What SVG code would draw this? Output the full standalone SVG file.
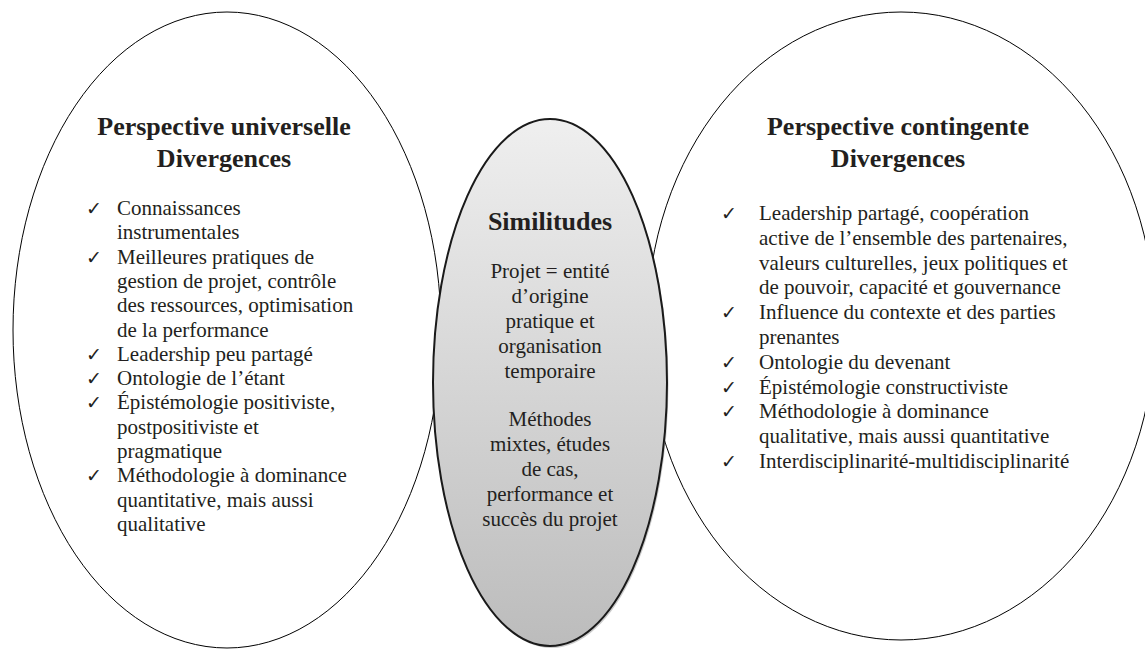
<svg xmlns="http://www.w3.org/2000/svg" width="1145" height="649" viewBox="0 0 1145 649">
<style>
.bg{fill:#ffffff}
.outer{fill:#ffffff;stroke:#000000;stroke-width:1}
.inner{fill:url(#grad);stroke:#1a1a1a;stroke-width:2}
.shadow{fill:#8c8c8c;opacity:0.45}
.title{font-family:"Liberation Serif",serif;font-weight:bold;font-size:26px;fill:#231f20;text-anchor:middle}
.body{font-family:"Liberation Serif",serif;font-size:21px;fill:#231f20}
.mid{font-family:"Liberation Serif",serif;font-size:21px;fill:#231f20;text-anchor:middle}
.chk{font-family:"DejaVu Sans",sans-serif;font-size:19px;fill:#231f20}
</style>
<defs>
<linearGradient id="grad" x1="0" y1="0" x2="0" y2="1">
<stop offset="0" stop-color="#efefef"/>
<stop offset="1" stop-color="#bcbcbc"/>
</linearGradient>
</defs>
<rect class="bg" x="0" y="0" width="1145" height="649"/>
<g id="connectors"></g>
<g id="node-universelle">
<ellipse class="outer" cx="227" cy="330" rx="214" ry="318"/>
<text class="title" x="224" y="135">Perspective universelle</text>
<text class="title" x="224" y="167">Divergences</text>
<g class="chk">
<text x="86" y="215">✓</text>
<text x="86" y="263.6">✓</text>
<text x="86" y="360.8">✓</text>
<text x="86" y="385.1">✓</text>
<text x="86" y="409.4">✓</text>
<text x="86" y="482.3">✓</text>
</g>
<g class="body">
<text x="117" y="215">Connaissances</text>
<text x="117" y="239.3">instrumentales</text>
<text x="117" y="263.6">Meilleures pratiques de</text>
<text x="117" y="287.9">gestion de projet, contrôle</text>
<text x="117" y="312.2">des ressources, optimisation</text>
<text x="117" y="336.5">de la performance</text>
<text x="117" y="360.8">Leadership peu partagé</text>
<text x="117" y="385.1">Ontologie de l’étant</text>
<text x="117" y="409.4">Épistémologie positiviste,</text>
<text x="117" y="433.7">postpositiviste et</text>
<text x="117" y="458">pragmatique</text>
<text x="117" y="482.3">Méthodologie à dominance</text>
<text x="117" y="506.6">quantitative, mais aussi</text>
<text x="117" y="530.9">qualitative</text>
</g>
</g>
<g id="node-contingente">
<ellipse class="outer" cx="901" cy="326" rx="254" ry="314"/>
<text class="title" x="898" y="135">Perspective contingente</text>
<text class="title" x="898" y="167">Divergences</text>
<g class="chk">
<text x="721" y="220">✓</text>
<text x="721" y="319.2">✓</text>
<text x="721" y="368.8">✓</text>
<text x="721" y="393.6">✓</text>
<text x="721" y="418.4">✓</text>
<text x="721" y="468">✓</text>
</g>
<g class="body">
<text x="759" y="220">Leadership partagé, coopération</text>
<text x="759" y="244.8">active de l’ensemble des partenaires,</text>
<text x="759" y="269.6">valeurs culturelles, jeux politiques et</text>
<text x="759" y="294.4">de pouvoir, capacité et gouvernance</text>
<text x="759" y="319.2">Influence du contexte et des parties</text>
<text x="759" y="344">prenantes</text>
<text x="759" y="368.8">Ontologie du devenant</text>
<text x="759" y="393.6">Épistémologie constructiviste</text>
<text x="759" y="418.4">Méthodologie à dominance</text>
<text x="759" y="443.2">qualitative, mais aussi quantitative</text>
<text x="759" y="468">Interdisciplinarité-multidisciplinarité</text>
</g>
</g>
<g id="node-similitudes">
<ellipse class="shadow" cx="551.5" cy="385" rx="117" ry="263"/>
<ellipse class="inner" cx="550" cy="382.5" rx="117" ry="263.5"/>
<text class="title" x="550" y="230">Similitudes</text>
<g class="mid">
<text x="550" y="278">Projet = entité</text>
<text x="550" y="303">d’origine</text>
<text x="550" y="328">pratique et</text>
<text x="550" y="353">organisation</text>
<text x="550" y="378">temporaire</text>
<text x="550" y="426">Méthodes</text>
<text x="550" y="451">mixtes, études</text>
<text x="550" y="476">de cas,</text>
<text x="550" y="501">performance et</text>
<text x="550" y="526">succès du projet</text>
</g>
</g>
</svg>
